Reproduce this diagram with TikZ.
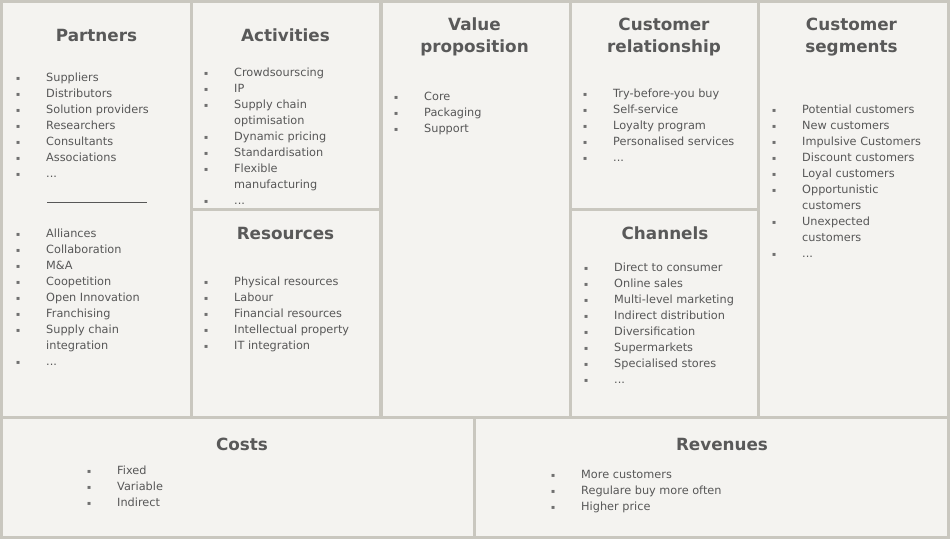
\documentclass[tikz,border=0pt]{standalone}
\usepackage{fontspec}
\setmainfont{DejaVu Sans}
\definecolor{framegray}{HTML}{C9C7BF}
\definecolor{boxfill}{HTML}{F4F3F0}
\definecolor{titlegray}{HTML}{595959}
\definecolor{textgray}{HTML}{575757}
\definecolor{dotgray}{HTML}{707070}
\newcommand{\bl}{\raisebox{0.8pt}{\fontsize{6}{16}\selectfont\textcolor{dotgray}{▪}}}
\newcommand{\itemlist}[1]{\begin{tabular}[t]{@{}p{30pt}@{}l@{}}#1\end{tabular}}
\newcommand{\twoline}[2]{\begin{tabular}[t]{@{}c@{}}#1\\#2\end{tabular}}

\begin{document}
\begin{tikzpicture}[x=1pt,y=-1pt,
    box/.style={fill=boxfill,anchor=north west,inner sep=0pt,outer sep=0pt},
    title/.style={anchor=base,inner sep=0pt,text=titlegray,
      font=\fontsize{16.8}{22}\selectfont\bfseries},
    list/.style={anchor=base west,inner sep=0pt,text=textgray,
      font=\fontsize{11.3}{16}\selectfont}]
  \fill[framegray] (0,0) rectangle (950,539);
  \node[box,minimum width=187pt,minimum height=413pt] (partners) at (3,3) {};
  \node[box,minimum width=186pt,minimum height=205pt] (activities) at (193,3) {};
  \node[box,minimum width=186pt,minimum height=205pt] (resources) at (193,211) {};
  \node[box,minimum width=186pt,minimum height=413pt] (value) at (383,3) {};
  \node[box,minimum width=185pt,minimum height=205pt] (relation) at (572,3) {};
  \node[box,minimum width=185pt,minimum height=205pt] (channels) at (572,211) {};
  \node[box,minimum width=187pt,minimum height=413pt] (segments) at (760,3) {};
  \node[box,minimum width=470pt,minimum height=117pt] (costs) at (3,419) {};
  \node[box,minimum width=471pt,minimum height=117pt] (revenues) at (476,419) {};

  \node[title] (partnerstitle) at (96.5,41.5) {Partners};
  \node[title] (activitiestitle) at (285.5,41.5) {Activities};
  \node[title] (resourcestitle) at (285.5,239) {Resources};
  \node[title] (valuetitle) at (474.5,30.5) {\twoline{Value}{proposition}};
  \node[title] (relationtitle) at (664,30.5) {\twoline{Customer}{relationship}};
  \node[title] (channelstitle) at (665,239) {Channels};
  \node[title] (segmentstitle) at (851.5,30.5) {\twoline{Customer}{segments}};
  \node[title] (coststitle) at (242,450) {Costs};
  \node[title] (revenuestitle) at (722,450) {Revenues};

  \node[list] (partnerlist) at (16,81) {\itemlist{
    \bl & Suppliers\\ \bl & Distributors\\ \bl & Solution providers\\
    \bl & Researchers\\ \bl & Consultants\\ \bl & Associations\\ \bl & ...}};
  \coordinate (sepleft) at (47,202);
  \coordinate (sepright) at (147,202);
  \draw[textgray,line width=0.8pt] (sepleft) -- (sepright);
  \node[list] (alliancelist) at (16,237) {\itemlist{
    \bl & Alliances\\ \bl & Collaboration\\ \bl & M\&A\\ \bl & Coopetition\\
    \bl & Open Innovation\\ \bl & Franchising\\ \bl & Supply chain\\
    & integration\\ \bl & ...}};
  \node[list] (activitylist) at (204,76) {\itemlist{
    \bl & Crowdsourscing\\ \bl & IP\\ \bl & Supply chain\\ & optimisation\\
    \bl & Dynamic pricing\\ \bl & Standardisation\\ \bl & Flexible\\
    & manufacturing\\ \bl & ...}};
  \node[list] (resourcelist) at (204,285) {\itemlist{
    \bl & Physical resources\\ \bl & Labour\\ \bl & Financial resources\\
    \bl & Intellectual property\\ \bl & IT integration}};
  \node[list] (valuelist) at (394,100) {\itemlist{
    \bl & Core\\ \bl & Packaging\\ \bl & Support}};
  \node[list] (relationlist) at (583,97) {\itemlist{
    \bl & Try-before-you buy\\ \bl & Self-service\\ \bl & Loyalty program\\
    \bl & Personalised services\\ \bl & ...}};
  \node[list] (channellist) at (584,271) {\itemlist{
    \bl & Direct to consumer\\ \bl & Online sales\\ \bl & Multi-level marketing\\
    \bl & Indirect distribution\\ \bl & Diversification\\ \bl & Supermarkets\\
    \bl & Specialised stores\\ \bl & ...}};
  \node[list] (segmentlist) at (772,113) {\itemlist{
    \bl & Potential customers\\ \bl & New customers\\ \bl & Impulsive Customers\\
    \bl & Discount customers\\ \bl & Loyal customers\\ \bl & Opportunistic\\
    & customers\\ \bl & Unexpected\\ & customers\\ \bl & ...}};
  \node[list] (costlist) at (87,474) {\itemlist{
    \bl & Fixed\\ \bl & Variable\\ \bl & Indirect}};
  \node[list] (revenuelist) at (551,478) {\itemlist{
    \bl & More customers\\ \bl & Regulare buy more often\\ \bl & Higher price}};
\end{tikzpicture}
\end{document}
